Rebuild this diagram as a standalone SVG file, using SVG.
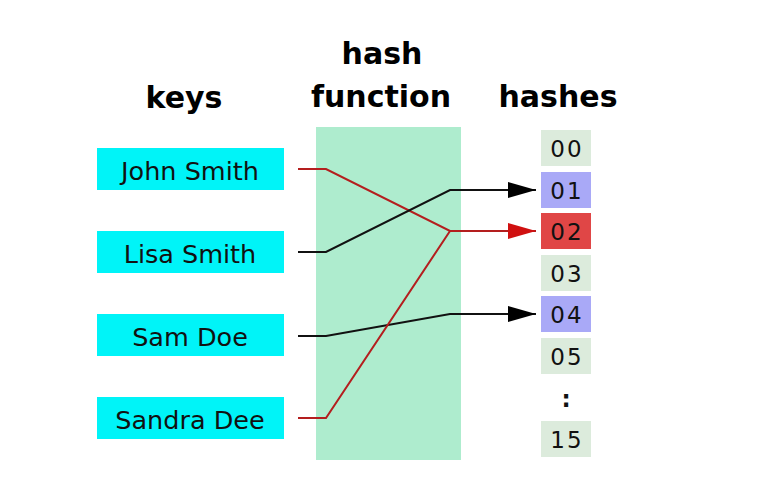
<svg xmlns="http://www.w3.org/2000/svg" width="774" height="489" viewBox="0 0 774 489">
<defs>
<style>
.title{font-family:"DejaVu Sans",Verdana,sans-serif;font-weight:bold;font-size:30px;fill:#000;text-anchor:middle}
.key rect{fill:#00f4f8}
.key text{font-family:"DejaVu Sans",Verdana,sans-serif;font-size:25.5px;fill:#111;text-anchor:middle}
.h text{font-family:"DejaVu Sans",Verdana,sans-serif;font-size:23px;fill:#111;text-anchor:middle;letter-spacing:2px}
.h rect{fill:#dcebdc}
.h.b rect{fill:#a9a9f7}
.h.r rect{fill:#e04646}
.blk{fill:none;stroke:#111;stroke-width:2}
.red{fill:none;stroke:#b41e1e;stroke-width:2}
</style>
<marker id="ab" viewBox="0 0 28 16" refX="28" refY="8" markerWidth="28" markerHeight="16" markerUnits="userSpaceOnUse" orient="auto"><path d="M0,0 L28,8 L0,16 Z" fill="#000"/></marker>
<marker id="ar" viewBox="0 0 28 16" refX="28" refY="8" markerWidth="28" markerHeight="16" markerUnits="userSpaceOnUse" orient="auto"><path d="M0,0 L28,8 L0,16 Z" fill="#d01010"/></marker>
</defs>
<rect width="774" height="489" fill="#fff"/>
<g id="titles">
<text class="title" x="184" y="108">keys</text>
<text class="title" x="382" y="64">hash</text>
<text class="title" x="381" y="107">function</text>
<text class="title" x="558" y="107">hashes</text>
</g>
<g id="hashfunction"><rect x="316" y="127" width="145" height="333" fill="#aeecce"/></g>
<g id="key-john" class="key"><rect x="97" y="148" width="187" height="42"/><text x="190" y="180">John Smith</text></g>
<g id="key-lisa" class="key"><rect x="97" y="231" width="187" height="42"/><text x="190" y="263">Lisa Smith</text></g>
<g id="key-sam" class="key"><rect x="97" y="314" width="187" height="42"/><text x="190" y="346">Sam Doe</text></g>
<g id="key-sandra" class="key"><rect x="97" y="397" width="187" height="42"/><text x="190" y="429">Sandra Dee</text></g>
<g id="h00" class="h"><rect x="541" y="130" width="50" height="36"/><text x="567" y="157">00</text></g>
<g id="h01" class="h b"><rect x="541" y="172" width="50" height="36"/><text x="567" y="199">01</text></g>
<g id="h02" class="h r"><rect x="541" y="213" width="50" height="36"/><text x="567" y="240">02</text></g>
<g id="h03" class="h"><rect x="541" y="255" width="50" height="36"/><text x="567" y="282">03</text></g>
<g id="h04" class="h b"><rect x="541" y="296" width="50" height="36"/><text x="567" y="323">04</text></g>
<g id="h05" class="h"><rect x="541" y="338" width="50" height="36"/><text x="567" y="365">05</text></g>
<g id="hdots" class="h"><text x="567" y="407" font-weight="bold">:</text></g>
<g id="h15" class="h"><rect x="541" y="421" width="50" height="36"/><text x="567" y="448">15</text></g>
<g id="connectors">
<polyline class="red" points="298,169 326,169 450,231 536,231" marker-end="url(#ar)"/>
<polyline class="blk" points="298,252 326,252 450,190 536,190" marker-end="url(#ab)"/>
<polyline class="blk" points="298,336 326,336 450,314 536,314" marker-end="url(#ab)"/>
<polyline class="red" points="298,418 326,418 450,231"/>
</g>
</svg>
